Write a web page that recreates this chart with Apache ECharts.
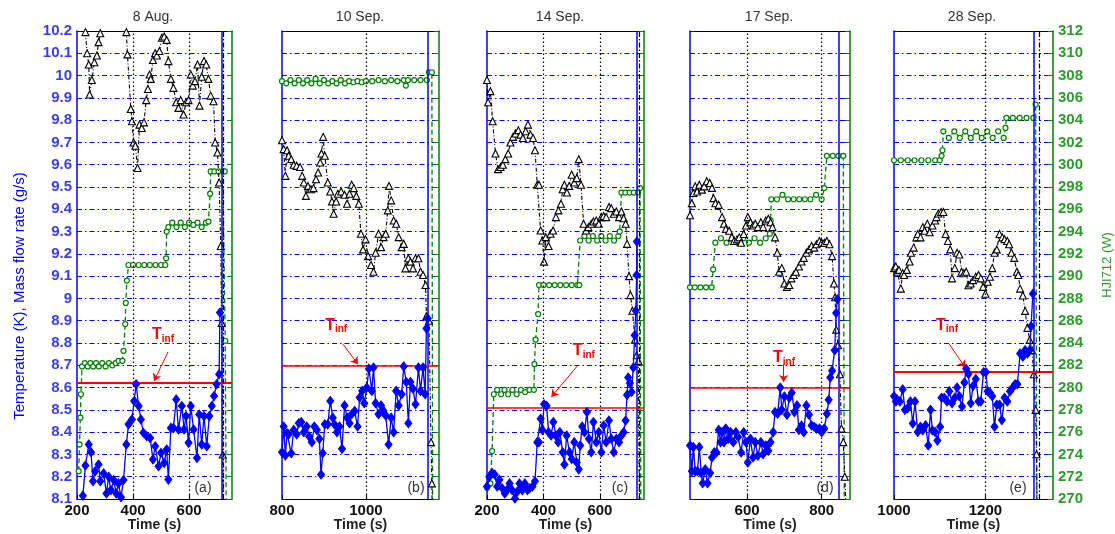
<!DOCTYPE html>
<html><head><meta charset="utf-8">
<script src="https://cdn.jsdelivr.net/npm/echarts@6/dist/echarts.min.js"></script>
<style>html,body{margin:0;padding:0;background:#fff}#c{width:1115px;height:534px}</style>
</head><body><div id="c"></div>
<script>
// ---------------- DATA ----------------
const panelTitles = ['8 Aug.', '10 Sep.', '14 Sep.', '17 Sep.', '28 Sep.'];
const panelTags = ['(a)', '(b)', '(c)', '(d)', '(e)'];
const xTicksA = [200, 400, 600], xTicksB = [800, 1000], xTicksC = [200, 400, 600], xTicksD = [600, 800], xTicksE = [1000, 1200];
const tInf = [8.62, 8.695, 8.512, 8.602, 8.672];

// Temperature (K) -- blue diamonds [time, value]
const blueA = [[221,8.115],[230,8.25],[242,8.345],[250,8.31],[257,8.18],[265,8.225],[277,8.255],[283,8.18],[295,8.215],[305,8.125],[313,8.2],[321,8.14],[331,8.185],[340,8.125],[348,8.17],[357,8.108],[366,8.185],[376,8.345],[384,8.435],[396,8.457],[404,8.54],[411,8.615],[420,8.517],[428,8.457],[437,8.397],[449,8.382],[461,8.374],[471,8.277],[479,8.337],[491,8.247],[500,8.307],[511,8.262],[520,8.322],[526,8.187],[535,8.419],[544,8.419],[554,8.547],[562,8.412],[574,8.517],[582,8.412],[589,8.472],[598,8.352],[606,8.517],[616,8.412],[628,8.284],[636,8.479],[645,8.345],[653,8.472],[663,8.337],[672,8.472],[681,8.517],[689,8.562],[698,8.615],[707,8.66],[710,8.937]];
const blueB = [[800,8.31],[804,8.425],[808,8.295],[812,8.395],[816,8.39],[822,8.305],[828,8.41],[835,8.39],[840,8.44],[846,8.445],[852,8.4],[859,8.425],[865,8.38],[871,8.355],[877,8.425],[883,8.41],[889,8.37],[893,8.21],[897,8.305],[902,8.435],[909,8.435],[915,8.54],[921,8.465],[925,8.435],[931,8.4],[937,8.425],[943,8.325],[949,8.52],[955,8.465],[961,8.44],[966,8.48],[973,8.495],[980,8.425],[985,8.555],[991,8.585],[996,8.53],[1002,8.6],[1007,8.685],[1014,8.585],[1018,8.69],[1023,8.53],[1030,8.48],[1036,8.52],[1042,8.495],[1047,8.475],[1054,8.345],[1060,8.465],[1066,8.4],[1072,8.585],[1078,8.52],[1085,8.57],[1090,8.695],[1096,8.625],[1101,8.44],[1106,8.625],[1112,8.595],[1118,8.525],[1125,8.69],[1130,8.585],[1136,8.69],[1141,8.57],[1144,8.865],[1147,8.91]];
const blueC = [[200,8.156],[208,8.2],[218,8.217],[227,8.21],[236,8.156],[244,8.186],[254,8.148],[263,8.125],[271,8.14],[280,8.17],[289,8.14],[299,8.102],[307,8.133],[315,8.17],[325,8.14],[334,8.17],[343,8.14],[351,8.148],[361,8.156],[370,8.18],[378,8.355],[384,8.355],[390,8.46],[396,8.41],[402,8.525],[411,8.518],[418,8.4],[427,8.385],[435,8.445],[444,8.385],[452,8.355],[458,8.4],[468,8.31],[474,8.255],[482,8.385],[492,8.31],[500,8.28],[509,8.355],[518,8.264],[525,8.233],[530,8.34],[537,8.425],[545,8.4],[554,8.49],[561,8.37],[569,8.31],[577,8.445],[587,8.355],[596,8.4],[605,8.31],[613,8.43],[622,8.355],[632,8.452],[640,8.37],[649,8.31],[658,8.37],[668,8.355],[676,8.385],[684,8.4],[691,8.452],[696,8.567],[700,8.645],[706,8.62],[712,8.58],[718,8.69],[723,8.835],[727,8.945],[730,9.105],[731,9.255]];
const blueD = [[447,8.34],[452,8.225],[456,8.333],[461,8.225],[467,8.225],[472,8.333],[477,8.217],[481,8.171],[488,8.233],[494,8.171],[501,8.217],[506,8.286],[512,8.309],[518,8.309],[524,8.41],[529,8.355],[533,8.4],[538,8.355],[543,8.416],[549,8.37],[556,8.4],[563,8.355],[570,8.4],[576,8.378],[584,8.309],[591,8.4],[597,8.355],[602,8.264],[609,8.37],[616,8.286],[622,8.355],[629,8.294],[637,8.355],[643,8.301],[650,8.34],[657,8.317],[663,8.355],[670,8.4],[675,8.49],[682,8.483],[689,8.6],[693,8.5],[700,8.56],[707,8.478],[713,8.554],[720,8.577],[727,8.49],[734,8.52],[739,8.41],[746,8.43],[752,8.4],[759,8.52],[766,8.478],[773,8.43],[780,8.424],[786,8.416],[794,8.416],[800,8.4],[807,8.416],[814,8.483],[819,8.545],[823,8.645],[828,8.676],[835,8.768],[839,8.935],[842,8.996]];
const blueE = [[1000,8.561],[1004,8.538],[1007,8.546],[1013,8.538],[1019,8.592],[1024,8.5],[1030,8.508],[1036,8.538],[1041,8.439],[1046,8.538],[1052,8.401],[1058,8.424],[1063,8.408],[1069,8.431],[1075,8.34],[1080,8.5],[1084,8.408],[1090,8.401],[1095,8.362],[1101,8.424],[1104,8.554],[1110,8.554],[1116,8.538],[1121,8.584],[1127,8.53],[1133,8.554],[1138,8.6],[1143,8.561],[1149,8.515],[1154,8.623],[1158,8.684],[1163,8.661],[1168,8.53],[1173,8.607],[1179,8.638],[1185,8.538],[1190,8.538],[1196,8.669],[1201,8.669],[1205,8.584],[1210,8.577],[1215,8.561],[1220,8.424],[1225,8.523],[1231,8.523],[1236,8.454],[1242,8.554],[1248,8.538],[1254,8.584],[1260,8.6],[1265,8.615],[1270,8.615],[1276,8.753],[1282,8.738],[1287,8.768],[1292,8.753],[1297,8.768],[1300,8.875],[1304,9.021]];

// Mass flow rate (g/s) -- black triangles
const blackA = [[230,10.195],[236,10.1],[242,10.05],[245,9.915],[253,9.98],[262,10.06],[271,10.09],[277,10.15],[283,10.19],[300,10.3],[360,10.3],[376,10.195],[380,10.095],[392,9.85],[396,9.795],[402,9.7],[408,9.685],[416,9.585],[423,9.78],[431,9.765],[439,9.79],[447,9.89],[453,9.94],[459,10.005],[463,9.985],[471,10.07],[479,10.1],[485,10.09],[494,10.11],[503,10.17],[511,10.175],[520,10.16],[526,10.065],[535,9.985],[544,9.945],[554,9.88],[562,9.855],[570,9.89],[580,9.825],[589,9.88],[598,9.89],[606,10.005],[613,9.955],[621,9.975],[630,10.05],[637,9.865],[645,9.995],[653,10.065],[661,10.05],[669,9.985],[677,9.91],[687,9.885],[693,9.7],[701,9.655],[707,9.52],[713,9.235],[716,8.89],[720,8.3],[722,8.0]];
const blackB = [[800,9.71],[804,9.67],[808,9.55],[812,9.665],[816,9.64],[822,9.625],[828,9.6],[835,9.595],[843,9.59],[848,9.55],[852,9.52],[857,9.46],[862,9.505],[869,9.49],[875,9.495],[881,9.535],[886,9.565],[891,9.61],[894,9.65],[898,9.725],[902,9.64],[909,9.52],[915,9.48],[919,9.435],[923,9.38],[929,9.435],[933,9.47],[941,9.48],[949,9.465],[955,9.425],[961,9.47],[966,9.51],[971,9.495],[977,9.46],[983,9.425],[988,9.29],[993,9.22],[999,9.265],[1005,9.19],[1012,9.15],[1018,9.12],[1023,9.205],[1030,9.29],[1036,9.23],[1042,9.275],[1047,9.29],[1052,9.395],[1055,9.505],[1060,9.44],[1066,9.35],[1072,9.335],[1078,9.275],[1085,9.23],[1090,9.245],[1094,9.135],[1101,9.18],[1106,9.165],[1112,9.135],[1118,9.18],[1125,9.18],[1130,9.12],[1136,9.105],[1142,9.06],[1144,8.92],[1150,8.9],[1155,8.355],[1157,8.17],[1158,8.0]];
const blackC = [[200,9.98],[204,9.88],[212,9.93],[220,9.795],[230,9.65],[239,9.58],[248,9.59],[256,9.6],[265,9.625],[275,9.65],[283,9.7],[292,9.725],[301,9.74],[311,9.755],[319,9.735],[327,9.72],[337,9.75],[345,9.78],[354,9.735],[363,9.72],[370,9.665],[378,9.51],[384,9.51],[390,9.305],[396,9.26],[402,9.165],[408,9.275],[418,9.235],[425,9.29],[434,9.305],[444,9.365],[453,9.395],[462,9.425],[468,9.49],[474,9.51],[483,9.475],[491,9.505],[500,9.555],[509,9.52],[518,9.54],[525,9.625],[533,9.51],[542,9.335],[551,9.305],[559,9.32],[569,9.335],[577,9.345],[587,9.35],[596,9.335],[605,9.365],[613,9.37],[622,9.365],[632,9.41],[640,9.405],[649,9.38],[658,9.39],[668,9.365],[676,9.39],[684,9.36],[691,9.335],[696,9.245],[703,9.1],[708,9.015],[715,8.945],[724,8.815],[730,8.745],[736,8.72],[740,8.0]];
const blackD = [[447,9.373],[452,9.427],[456,9.473],[461,9.503],[466,9.48],[472,9.51],[479,9.488],[485,9.503],[492,9.526],[500,9.518],[506,9.496],[510,9.45],[515,9.427],[524,9.42],[533,9.365],[538,9.335],[543,9.312],[552,9.304],[559,9.274],[565,9.258],[573,9.265],[579,9.274],[584,9.25],[591,9.289],[597,9.327],[602,9.365],[609,9.342],[616,9.327],[622,9.335],[629,9.32],[637,9.342],[643,9.32],[650,9.35],[657,9.358],[663,9.342],[668,9.32],[675,9.274],[681,9.205],[686,9.12],[693,9.136],[700,9.067],[707,9.052],[713,9.06],[719,9.09],[725,9.105],[731,9.12],[739,9.143],[746,9.166],[752,9.182],[759,9.205],[766,9.22],[773,9.235],[780,9.228],[786,9.243],[794,9.258],[800,9.25],[807,9.25],[814,9.258],[821,9.243],[828,9.19],[833,9.067],[836,9.005],[839,8.86],[844,8.79],[849,8.66],[853,8.416],[858,8.355],[862,8.2],[867,8.0]];
const blackE = [[1000,9.136],[1004,9.143],[1007,9.12],[1011,9.128],[1015,9.044],[1019,9.113],[1022,9.105],[1028,9.128],[1034,9.166],[1037,9.205],[1043,9.228],[1049,9.274],[1052,9.289],[1058,9.274],[1063,9.32],[1067,9.304],[1073,9.335],[1078,9.297],[1084,9.327],[1090,9.35],[1093,9.365],[1097,9.381],[1103,9.388],[1108,9.388],[1113,9.289],[1118,9.258],[1123,9.22],[1127,9.09],[1133,9.136],[1138,9.205],[1143,9.197],[1148,9.12],[1153,9.113],[1158,9.12],[1163,9.059],[1168,9.067],[1173,9.082],[1179,9.097],[1185,9.105],[1190,9.09],[1195,9.052],[1200,9.021],[1205,9.075],[1210,9.097],[1215,9.136],[1220,9.205],[1225,9.22],[1231,9.289],[1237,9.274],[1242,9.266],[1248,9.258],[1252,9.243],[1257,9.205],[1263,9.182],[1269,9.12],[1272,9.105],[1276,9.044],[1282,9.013],[1287,8.944],[1292,8.868],[1297,8.814],[1302,8.768],[1306,8.66],[1310,8.5],[1312,8.301],[1313,8.0]];

// HJI712 (W) -- green circles
const greenA = [[206,272.5],[209,274.9],[212,277.3],[214,279.4],[218,281.9],[228,282.2],[238,281.9],[248,282.2],[258,281.9],[268,282.2],[278,281.9],[290,282.2],[302,281.9],[314,282.2],[326,282.0],[338,282.2],[348,282.4],[362,282.4],[366,283.3],[372,285.7],[374,287.6],[378,289.6],[384,291.0],[400,291.0],[420,291.0],[440,291.0],[460,291.0],[480,291.0],[500,291.0],[515,291.0],[518,291.6],[520,294.0],[526,294.4],[540,294.8],[555,294.4],[570,294.8],[585,294.4],[600,294.8],[615,294.6],[630,294.8],[645,294.4],[660,294.8],[669,294.9],[675,297.4],[677,299.4],[690,299.4],[705,299.4],[720,299.4],[727,299.4],[729,284.2],[733,266]];
const greenB = [[800,307.5],[810,307.3],[820,307.6],[830,307.3],[840,307.6],[850,307.3],[860,307.6],[870,307.3],[880,307.7],[890,307.3],[900,307.6],[910,307.3],[920,307.5],[930,307.3],[940,307.6],[950,307.3],[960,307.5],[970,307.4],[980,307.5],[990,307.4],[1000,307.5],[1015,307.5],[1030,307.6],[1045,307.5],[1060,307.6],[1075,307.5],[1090,307.6],[1095,307.1],[1100,307.6],[1115,307.6],[1130,307.6],[1145,307.6],[1150,308.3],[1157,308.3],[1159,266]];
const greenC = [[200,271.0],[212,271.4],[218,274.3],[224,279.4],[236,279.8],[250,279.4],[262,279.8],[275,279.4],[290,279.8],[305,279.4],[320,279.8],[335,279.6],[350,279.8],[366,279.8],[368,282.1],[372,284.3],[381,286.6],[384,289.2],[400,289.2],[420,289.2],[440,289.2],[460,289.2],[480,289.2],[500,289.2],[520,289.2],[527,289.2],[530,293.2],[545,293.6],[560,293.2],[575,293.6],[590,293.2],[605,293.6],[620,293.2],[635,293.6],[650,293.2],[665,293.6],[670,294.0],[676,297.5],[690,297.5],[705,297.5],[720,297.5],[735,297.5],[742,297.9],[745,266]];
const greenD = [[447,289.0],[460,289.0],[475,289.0],[490,289.0],[505,289.0],[509,290.6],[515,293.0],[530,293.4],[545,293.0],[560,293.4],[575,293.0],[590,293.4],[605,293.0],[620,293.4],[635,293.0],[650,293.4],[661,293.8],[663,295.0],[665,296.9],[680,296.9],[695,297.3],[710,296.9],[725,296.9],[740,296.9],[755,296.9],[770,296.9],[785,297.3],[800,296.9],[807,297.9],[814,300.8],[830,300.8],[845,300.8],[858,300.8],[861,266]];
const greenE = [[1000,300.4],[1015,300.4],[1030,300.4],[1045,300.4],[1060,300.4],[1075,300.4],[1090,300.4],[1100,300.4],[1104,300.8],[1106,301.3],[1108,303.0],[1120,302.4],[1132,303.0],[1144,302.4],[1156,303.0],[1168,302.4],[1180,303.0],[1192,302.4],[1204,303.0],[1216,302.4],[1228,303.0],[1240,302.4],[1244,303.3],[1246,304.2],[1260,304.2],[1275,304.2],[1290,304.2],[1305,304.2],[1310,305.4],[1313,266]];

// ---------------- LAYOUT / STYLE ----------------
const panels = [
  {left:77,  width:155, xmin:200,  xmax:753,  ticks:xTicksA, blueEnd:717,  blackEdge:720,  tinfW:2,   blue:blueA, black:blackA, green:greenA, txt:[507,8.836], arrow:[[525,8.76],[475,8.63]], tagX:203, titleX:153},
  {left:282, width:157, xmin:800,  xmax:1174, ticks:xTicksB, blueEnd:1148, blackEdge:null, tinfW:1.5, blue:blueB, black:blackB, green:greenB, txt:[929,8.88],  arrow:[[945,8.795],[981,8.705]], tagX:416, titleX:360},
  {left:487, width:157, xmin:200,  xmax:756,  ticks:xTicksC, blueEnd:729,  blackEdge:739,  tinfW:1.5, blue:blueC, black:blackC, green:greenC, txt:[543,8.764], arrow:[[520,8.697],[428,8.558]], tagX:620, titleX:560},
  {left:690, width:160, xmin:447,  xmax:876,  ticks:xTicksD, blueEnd:846,  blackEdge:null, tinfW:1.5, blue:blueD, black:blackD, green:greenD, txt:[699,8.734], arrow:[[698,8.704],[698,8.625]], tagX:825, titleX:769},
  {left:894, width:159, xmin:1000, xmax:1348, ticks:xTicksE, blueEnd:1306, blackEdge:1318, tinfW:2,   blue:blueE, black:blackE, green:greenE, txt:[1116,8.88], arrow:[[1121,8.795],[1156,8.69]], tagX:1018, titleX:972}
];
const TOP = 31, HEIGHT = 468;
const BLUE = '#0000ff', GREEN = '#008000', BLUE_TXT = '#3b3bff', GREEN_TXT = '#2f9a2f', RED = '#ff0000';
const FONT = 'Liberation Sans, Arial, sans-serif';

const grid = [], xAxis = [], yAxis = [], series = [], graphic = [];
panels.forEach((p, i) => {
  grid.push({left: p.left, top: TOP, width: p.width, height: HEIGHT, containLabel: false, outerBoundsMode: 'none'});
  xAxis.push({
    type: 'value', gridIndex: i, min: p.xmin, max: p.xmax, position: 'bottom',
    axisLine: {show: true, onZero: false, lineStyle: {color: '#000', width: 1}},
    axisTick: {show: true, inside: true, length: 4, customValues: p.ticks, lineStyle: {color: '#000'}},
    axisLabel: {show: true, customValues: p.ticks, color: '#111', fontSize: 15, fontWeight: 'bold', fontFamily: FONT, margin: 4,
      formatter: v => String(v)},
    splitLine: {show: false},
    name: 'Time (s)', nameLocation: 'middle', nameGap: 19, nameMoveOverlap: false,
    nameTextStyle: {color: '#222', fontSize: 14, fontWeight: 'bold', fontFamily: FONT}
  });
  xAxis.push({
    type: 'value', gridIndex: i, min: p.xmin, max: p.xmax, position: 'top',
    axisLine: {show: true, onZero: false, lineStyle: {color: '#000', width: 1}},
    axisTick: {show: false}, axisLabel: {show: false}, splitLine: {show: false}
  });
  yAxis.push({
    type: 'value', gridIndex: i, min: 8.1, max: 10.2, interval: 0.1, position: 'left',
    axisLine: {show: true, onZero: false, lineStyle: {color: BLUE, width: 1.5}},
    axisTick: {show: true, inside: true, length: 4, lineStyle: {color: BLUE}},
    axisLabel: {show: i === 0, color: BLUE_TXT, fontSize: 15, fontWeight: 'bold', fontFamily: FONT, margin: 5,
      formatter: v => String(Math.round(v * 10) / 10)},
    splitLine: {show: true, lineStyle: {color: BLUE, width: 1, type: [5, 3, 1.5, 3]}}
  });
  yAxis.push({
    type: 'value', gridIndex: i, min: 270, max: 312, interval: 2, position: 'right',
    axisLine: {show: true, onZero: false, lineStyle: {color: GREEN, width: 1.5}},
    axisTick: {show: true, inside: true, length: 5, lineStyle: {color: GREEN}},
    axisLabel: {show: i === 4, color: GREEN_TXT, fontSize: 15, fontWeight: 'bold', fontFamily: FONT, margin: 5},
    splitLine: {show: false},
    name: i === 4 ? 'HJI712 (W)' : '', nameLocation: 'middle', nameGap: 48, nameRotate: 90, nameMoveOverlap: false,
    nameTextStyle: {color: GREEN_TXT, fontSize: 13, fontFamily: FONT}
  });

  const vGrid = p.ticks.filter(t => t > p.xmin).map(t => ({xAxis: t,
    lineStyle: {color: '#000', type: [1.5, 2.5], width: 1.2}}));
  const mlData = vGrid.concat([
    {xAxis: p.blueEnd, lineStyle: {color: BLUE, type: 'solid', width: 1.5}},
    {yAxis: tInf[i], lineStyle: {color: RED, type: 'solid', width: p.tinfW, opacity: 1}},
    [{coord: p.arrow[0], symbol: 'none', lineStyle: {color: RED, type: 'solid', width: 1}},
     {coord: p.arrow[1], symbol: 'arrow', symbolSize: 7}]
  ]);
  if (p.blackEdge) mlData.push({xAxis: p.blackEdge, lineStyle: {color: '#000', type: [5, 2, 1.5, 2], width: 1.2}});

  series.push({
    type: 'line', xAxisIndex: 2 * i, yAxisIndex: 2 * i + 1, data: p.green, clip: true,
    symbol: 'circle', symbolSize: 5, showAllSymbol: true,
    lineStyle: {color: GREEN, width: 1.3, type: [5, 3]},
    itemStyle: {color: '#fff', borderColor: GREEN, borderWidth: 1.2},
    emphasis: {disabled: true}, z: 3
  });
  series.push({
    type: 'line', xAxisIndex: 2 * i, yAxisIndex: 2 * i, data: p.black, clip: true,
    symbol: 'triangle', symbolSize: 7, showAllSymbol: true,
    lineStyle: {color: '#000', width: 1.1, type: [4, 2, 1, 2]},
    itemStyle: {color: '#fff', borderColor: '#000', borderWidth: 1.1},
    emphasis: {disabled: true}, z: 4
  });
  series.push({
    type: 'line', xAxisIndex: 2 * i, yAxisIndex: 2 * i, data: p.blue, clip: true,
    symbol: 'diamond', symbolSize: [7, 9], showAllSymbol: true,
    lineStyle: {color: BLUE, width: 1.3},
    itemStyle: {color: BLUE, borderColor: BLUE},
    emphasis: {disabled: true}, z: 5,
    markLine: {silent: true, symbol: ['none', 'none'], label: {show: false}, animation: false, data: mlData},
    markPoint: {silent: true, animation: false, symbol: 'circle', symbolSize: 0,
      data: [{coord: p.txt, label: {show: true, position: 'inside',
        formatter: '{t|T}{s|inf}',
        rich: {t: {color: RED, fontSize: 16, fontWeight: 'bold', fontFamily: FONT},
               s: {color: RED, fontSize: 10, fontWeight: 'bold', fontFamily: FONT, verticalAlign: 'bottom', padding: [9, 0, 0, 0]}}}}]}
  });

  graphic.push({type: 'text', x: p.titleX, y: 17, style: {text: panelTitles[i], textAlign: 'center', textVerticalAlign: 'middle',
    font: '14px ' + FONT, fill: '#333'}});
  graphic.push({type: 'text', x: p.tagX, y: 488, z: 10, style: {text: panelTags[i], textAlign: 'center', textVerticalAlign: 'middle',
    font: '14px ' + FONT, fill: '#333'}});
});
graphic.push({type: 'text', x: 20, y: 296, rotation: Math.PI / 2,
  style: {text: 'Temperature (K), Mass flow rate (g/s)', textAlign: 'center', textVerticalAlign: 'middle',
    font: '15px ' + FONT, fill: BLUE}});

const chart = echarts.init(document.getElementById('c'), null, {renderer: 'canvas'});
chart.setOption({animation: false, backgroundColor: '#fff', grid, xAxis, yAxis, series, graphic});
</script></body></html>
